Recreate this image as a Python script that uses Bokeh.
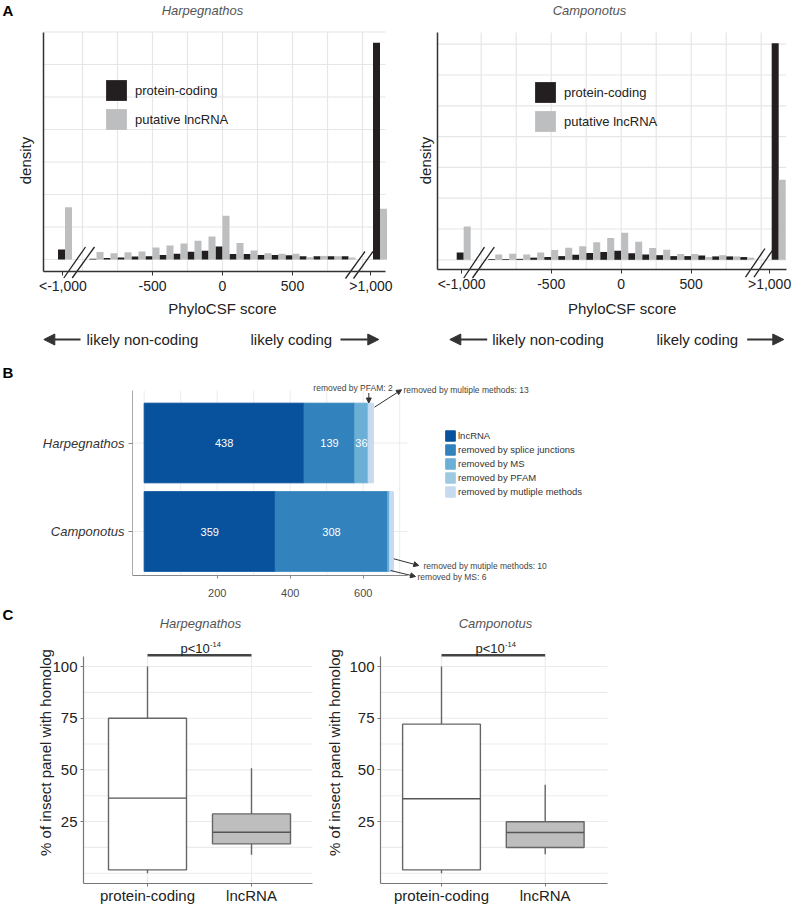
import numpy as np
from bokeh.plotting import figure
from bokeh.layouts import column, row
from bokeh.models import (ColumnDataSource, Range1d, FixedTicker, Arrow,
                          NormalHead, Legend, LegendItem)
from bokeh.transform import dodge
from bokeh.core.properties import value
from bokeh.embed import file_html
from bokeh.resources import INLINE

FONT = "Liberation Sans"

# ---------------- Panel A: PhyloCSF score histograms ----------------
a_bin_centers = [-1125, -900, -800, -700, -600, -500, -400, -300, -200, -100,
                 0, 100, 200, 300, 400, 500, 600, 700, 800, 900, 1125]
harp_coding = [0.31, 0.02, 0.05, 0.06, 0.09, 0.10, 0.14, 0.18, 0.24, 0.27,
               0.40, 0.17, 0.17, 0.14, 0.14, 0.13, 0.10, 0.10, 0.10, 0.10, 6.67]
harp_lncrna = [1.61, 0.23, 0.19, 0.22, 0.25, 0.37, 0.43, 0.49, 0.58, 0.71,
               1.35, 0.51, 0.28, 0.19, 0.18, 0.18, 0.07, 0.11, 0.10, 0.06, 1.56]
camp_coding = [0.24, 0.03, 0.03, 0.03, 0.07, 0.09, 0.12, 0.16, 0.22, 0.25,
               0.29, 0.21, 0.17, 0.15, 0.12, 0.12, 0.14, 0.11, 0.11, 0.09, 7.03]
camp_lncrna = [1.08, 0.17, 0.20, 0.17, 0.24, 0.32, 0.39, 0.44, 0.57, 0.71,
               0.88, 0.59, 0.38, 0.33, 0.19, 0.19, 0.09, 0.15, 0.11, 0.07, 2.60]
a_tick_values = [-1140, -500, 0, 500, 1060]
a_tick_labels = ["<-1,000", "-500", "0", "500", ">1,000"]
a_grid_values = [-1000, -750, -500, -250, 0, 250, 500, 750, 1000]
a_density_grid = [0, 1, 2, 3, 4, 5, 6, 7]
a_series = ["protein-coding", "putative lncRNA"]
a_colors = ["#231f20", "#bcbec0"]
species = ["Harpegnathos", "Camponotus"]

# ---------------- Panel B: filtering of candidate lncRNAs ----------------
b_categories = ["lncRNA", "removed by splice junctions", "removed by MS",
                "removed by PFAM", "removed by mutliple methods"]
b_keys = ["lnc", "splice", "ms", "pfam", "multi"]
b_harp = [438, 139, 36, 2, 13]
b_camp = [359, 308, 6, 0, 10]
b_colors = ["#08519c", "#3182bd", "#6baed6", "#9ecae1", "#c6dbef"]
b_ticks = [200, 400, 600]
b_grid = [0, 100, 200, 300, 400, 500, 600, 700]

# ---------------- Panel C: % of insect panel with homolog ----------------
c_groups = ["protein-coding", "lncRNA"]
c_fills = ["#ffffff", "#bebebe"]
c_ticks = [25, 50, 75, 100]
c_grid = [0, 12.5, 25, 37.5, 50, 62.5, 75, 87.5, 100]
harp_lower = [0.0, 8.9]
harp_q1 = [1.6, 14.2]
harp_median = [36.3, 19.8]
harp_q3 = [75.0, 28.7]
harp_upper = [100.0, 50.8]
camp_lower = [0.0, 9.2]
camp_q1 = [1.6, 12.4]
camp_median = [36.0, 19.7]
camp_q3 = [72.1, 24.9]
camp_upper = [100.0, 42.8]


class PixMap:
    """Linear map between page pixels and a figure's data space."""
    def __init__(self, ox, oy, w, h, ax, bx, ay, by):
        self.ox, self.oy, self.w, self.h = ox, oy, w, h
        self.ax, self.bx, self.ay, self.by = ax, bx, ay, by

    def x(self, px):
        return (px - self.ax) / self.bx

    def y(self, py):
        return (self.ay - py) / self.by

    def xr(self):
        return (self.x(self.ox), self.x(self.ox + self.w))

    def yr(self):
        return (self.y(self.oy + self.h), self.y(self.oy))

    def loc(self, px, py):
        return (px - self.ox, self.oy + self.h - py)


def new_fig(m):
    p = figure(width=m.w, height=m.h, x_range=Range1d(*m.xr()), y_range=Range1d(*m.yr()),
               output_backend="svg", toolbar_location=None,
               min_border_left=0, min_border_right=0, min_border_top=0, min_border_bottom=0)
    p.outline_line_color = None
    p.background_fill_color = "white"
    p.border_fill_color = "white"
    p.grid.visible = False
    for ax in (p.xaxis[0], p.yaxis[0]):
        ax.major_label_text_font = FONT
        ax.minor_tick_in = 0
        ax.minor_tick_out = 0
        ax.major_tick_in = 0
    return p


def style_axes(p, xpanel, ypanel):
    """Place the axes on the borders of the plotting panel."""
    xa, ya = p.xaxis[0], p.yaxis[0]
    xa.fixed_location = ypanel[0]
    xa.bounds = xpanel
    ya.fixed_location = xpanel[0]
    ya.bounds = ypanel
    return xa, ya


def add_text(p, m, px, py, text, size, color="#222", style="normal",
             align="center", angle=0.0):
    p.text(x=[m.x(px)], y=[m.y(py)], text=[text], text_font=value(FONT),
           text_font_size=f"{size}px", text_color=color, text_font_style=style,
           text_align=align, text_baseline="middle", angle=angle)


def add_arrow(p, m, x0, y0, x1, y1, color="#333", width=1.0, head=None):
    p.add_layout(Arrow(x_start=m.x(x0), y_start=m.y(y0), x_end=m.x(x1), y_end=m.y(y1),
                       start=None, end=head, line_color=color, line_width=width))


def big_head():
    return NormalHead(size=11, fill_color="#333", line_color="#333", line_width=1)


def small_head():
    return NormalHead(size=5, fill_color="#333", line_color="#333", line_width=1)


def grid_lines(p, xs, ys, xpanel, ypanel, color, width):
    n, k = len(xs), len(ys)
    p.segment(x0=xs, y0=[ypanel[0]] * n, x1=xs, y1=[ypanel[1]] * n,
              line_color=color, line_width=width)
    p.segment(x0=[xpanel[0]] * k, y0=ys, x1=[xpanel[1]] * k, y1=ys,
              line_color=color, line_width=width)


# ======================= Panel A =======================
def hist_panel(m, xpanel, ypanel, coding, lncrna, title, d):
    p = new_fig(m)
    grid_lines(p, a_grid_values, a_density_grid, xpanel, ypanel, "#e6e6e6", 1.2)
    src = ColumnDataSource(dict(x=a_bin_centers, coding=coding, lnc=lncrna))
    r1 = p.vbar(x=dodge("x", -25), top="coding", bottom=0, width=50, source=src,
                fill_color=a_colors[0], line_color=None)
    r2 = p.vbar(x=dodge("x", 25), top="lnc", bottom=0, width=50, source=src,
                fill_color=a_colors[1], line_color=None)

    xa, ya = style_axes(p, xpanel, ypanel)
    xa.ticker = FixedTicker(ticks=a_tick_values)
    xa.major_label_overrides = dict(zip(a_tick_values, a_tick_labels))
    xa.major_label_text_font_size = "14px"
    xa.major_label_text_color = "#222"
    xa.major_tick_out = 4
    xa.major_label_standoff = 2
    xa.axis_line_color = "#333"
    xa.axis_line_width = 1.5
    xa.major_tick_line_color = "#333"
    ya.ticker = FixedTicker(ticks=[])
    ya.axis_line_color = "#333"
    ya.axis_line_width = 1.5

    leg = Legend(items=[LegendItem(label=a_series[0], renderers=[r1]),
                        LegendItem(label=a_series[1], renderers=[r2])],
                 location=m.loc(*d["legend"]), orientation="vertical",
                 glyph_width=26, glyph_height=26, label_height=26, spacing=3,
                 padding=0, margin=0, label_standoff=6,
                 label_text_font=FONT, label_text_font_size="13px",
                 label_text_color="#222", background_fill_alpha=0,
                 border_line_alpha=0)
    p.add_layout(leg)

    add_text(p, m, d["title_x"], 10, title, 13, "#555", "italic")
    add_text(p, m, d["dens_x"], 160, "density", 15, "#222", angle=np.pi / 2)
    add_text(p, m, d["score_x"], 308, "PhyloCSF score", 15, "#222")
    add_arrow(p, m, d["la"][1], 339, d["la"][0], 339, "#333", 2, big_head())
    add_text(p, m, d["nc_x"], 339, "likely non-coding", 15, "#222", align="left")
    add_text(p, m, d["c_x"], 339, "likely coding", 15, "#222", align="left")
    add_arrow(p, m, d["ra"][0], 339, d["ra"][1], 339, "#333", 2, big_head())
    sl = d["slashes"]
    p.segment(x0=[m.x(s[0]) for s in sl], y0=[m.y(s[1]) for s in sl],
              x1=[m.x(s[2]) for s in sl], y1=[m.y(s[3]) for s in sl],
              line_color="#222", line_width=1.3)
    return p


mA1 = PixMap(0, 0, 400, 360, 222.0, 0.14, 259.0, 32.5)
pA1 = hist_panel(mA1, (-1279, 1164), (-0.37, 7.0), harp_coding, harp_lncrna, species[0],
                 dict(legend=(103, 132), title_x=202, dens_x=25, score_x=222,
                      la=(43.3, 80), nc_x=86, c_x=250, ra=(340, 378.3),
                      slashes=[(63.3, 277.5, 85, 246.5), (71.7, 277.5, 94, 246.5),
                               (345, 278, 364.5, 251), (353, 278, 372.5, 251)]))
add_text(pA1, mA1, 2, 10, "A", 15, "#000", "bold", align="left")

mA2 = PixMap(400, 0, 400, 360, 620.7, 0.14, 259.3, 30.8)
pA2 = hist_panel(mA2, (-1312, 1179), (-0.315, 7.38), camp_coding, camp_lncrna, species[1],
                 dict(legend=(532, 134), title_x=589, dens_x=425, score_x=621.7,
                      la=(449.3, 486.7), nc_x=491.7, c_x=656, ra=(746.7, 783.3),
                      slashes=[(463.3, 277.5, 484, 246.7), (472, 277.5, 493.8, 246.7),
                               (745, 276.7, 764.5, 248), (753.5, 276.7, 773, 248.3)]))

# ======================= Panel B =======================
mB = PixMap(0, 360, 800, 245, 143.7, 0.365, 619.5, 88.5)
pB = new_fig(mB)
xpB, ypB = (-32, 721), (0.503, 2.593)
b_pos = [len(species) - i for i in range(len(species))]
grid_lines(pB, b_grid, b_pos, xpB, ypB, "#ececec", 1)
b_data = dict(pos=b_pos)
for i, k in enumerate(b_keys):
    b_data[k] = [b_harp[i], b_camp[i]]
srcB = ColumnDataSource(b_data)
b_rs = pB.hbar_stack(b_keys, y="pos", height=0.9, color=b_colors, source=srcB)

vals = np.array([b_harp, b_camp], dtype=float)
ends = np.cumsum(vals, axis=1)
mids = ends - vals / 2.0
lx, ly, lt = [], [], []
for si in range(len(species)):
    for ci in range(len(b_keys)):
        if vals[si, ci] >= 20:
            lx.append(mids[si, ci])
            ly.append(b_pos[si])
            lt.append(str(int(vals[si, ci])))
pB.text(x=lx, y=ly, text=lt, text_align="center", text_baseline="middle",
        text_color="#ffffff", text_font=value(FONT), text_font_size="11px")

xb, yb = style_axes(pB, xpB, ypB)
xb.ticker = FixedTicker(ticks=b_ticks)
xb.major_label_text_font_size = "11px"
xb.major_label_text_color = "#4d4d4d"
xb.major_tick_out = 3
xb.major_label_standoff = 11
xb.axis_line_color = "#888"
xb.major_tick_line_color = "#888"
yb.ticker = FixedTicker(ticks=b_pos)
yb.major_label_overrides = dict(zip(b_pos, species))
yb.major_label_text_font_size = "13px"
yb.major_label_text_font_style = "italic"
yb.major_label_text_color = "#333"
yb.major_tick_out = 4
yb.major_label_standoff = 4
yb.axis_line_color = "#aaa"
yb.major_tick_line_color = "#888"

legB = Legend(items=[LegendItem(label=b_categories[i], renderers=[b_rs[i]])
                     for i in range(len(b_keys))],
              location=mB.loc(444, 498.3), orientation="vertical",
              glyph_width=12, glyph_height=13, label_height=13, spacing=1,
              padding=0, margin=0, label_standoff=2,
              label_text_font=FONT, label_text_font_size="9.5px",
              label_text_color="#333", background_fill_alpha=0, border_line_alpha=0)
pB.add_layout(legB)

add_text(pB, mB, 2, 372, "B", 15, "#000", "bold", align="left")
add_text(pB, mB, 352.5, 387.3, "removed by PFAM: 2", 8.5, "#444")
add_arrow(pB, mB, 368.3, 392.5, 368.3, 402.5, "#333", 1, small_head())
add_arrow(pB, mB, 374, 406.7, 401, 389.3, "#333", 1, small_head())
add_text(pB, mB, 403, 389, "removed by multiple methods: 13", 8.5, "#444", align="left")
add_arrow(pB, mB, 393.3, 558.3, 418.3, 565, "#333", 1, small_head())
add_text(pB, mB, 423, 565, "removed by mutiple methods: 10", 8.5, "#444", align="left")
add_arrow(pB, mB, 390, 570, 415, 576, "#333", 1, small_head())
add_text(pB, mB, 417, 576, "removed by MS: 6", 8.5, "#444", align="left")

# ======================= Panel C =======================
C_DY = -4  # lift panel C slightly so its bottom labels stay inside the page


def box_panel(m, xpanel, lower, q1, med, q3, upper, title, d):
    p = new_fig(m)
    ypanel = (-5, 105)
    pos = [i + 1 for i in range(len(c_groups))]
    grid_lines(p, pos, c_grid, xpanel, ypanel, "#ebebeb", 1.1)
    src = ColumnDataSource(dict(pos=pos, lower=lower, q1=q1, med=med, q3=q3,
                                upper=upper, fill=c_fills))
    p.segment(x0="pos", y0="q3", x1="pos", y1="upper", source=src,
              line_color="#666", line_width=1.4)
    p.segment(x0="pos", y0="q1", x1="pos", y1="lower", source=src,
              line_color="#666", line_width=1.4)
    p.vbar(x="pos", bottom="q1", top="q3", width=0.75, source=src,
           fill_color="fill", line_color="#666", line_width=1.4)
    p.segment(x0=dodge("pos", -0.375), y0="med", x1=dodge("pos", 0.375), y1="med",
              source=src, line_color="#555", line_width=1.4)

    xa, ya = style_axes(p, xpanel, ypanel)
    xa.ticker = FixedTicker(ticks=pos)
    xa.major_label_overrides = dict(zip(pos, c_groups))
    xa.major_label_text_font_size = "15px"
    xa.major_label_text_color = "#222"
    xa.major_tick_out = 3
    xa.major_label_standoff = 0
    xa.axis_line_color = "#777"
    xa.axis_line_width = 1.2
    xa.major_tick_line_color = "#777"
    ya.ticker = FixedTicker(ticks=c_ticks)
    ya.major_label_text_font_size = "15px"
    ya.major_label_text_color = "#222"
    ya.major_tick_out = 3
    ya.major_label_standoff = 3
    ya.axis_line_color = "#777"
    ya.axis_line_width = 1.2
    ya.major_tick_line_color = "#777"

    p.segment(x0=[pos[0]], y0=[105.4], x1=[pos[1]], y1=[105.4],
              line_color="#444", line_width=2.5)
    add_text(p, m, d["title_x"], 627 + C_DY, title, 13, "#555", "italic")
    add_text(p, m, d["p_x"], 652 + C_DY, "p<10", 13, "#222", align="left")
    add_text(p, m, d["p_x"] + 29.5, 647.5 + C_DY, "-14", 7.5, "#222", align="left")
    add_text(p, m, d["ylab_x"], 756 + C_DY, "% of insect panel with homolog", 15, "#222",
             angle=np.pi / 2)
    return p


mC1 = PixMap(0, 605, 320, 301, 43.0, 104.0, 876.7 + C_DY, 2.067)
pC1 = box_panel(mC1, (0.385, 2.587), harp_lower, harp_q1, harp_median, harp_q3,
                harp_upper, species[0], dict(title_x=200, p_x=180, ylab_x=45))
add_text(pC1, mC1, 2, 618 + C_DY, "C", 15, "#000", "bold", align="left")
mC2 = PixMap(320, 605, 480, 301, 337.3, 103.7, 876.7 + C_DY, 2.067)
pC2 = box_panel(mC2, (0.412, 2.601), camp_lower, camp_q1, camp_median, camp_q3,
                camp_upper, species[1], dict(title_x=495, p_x=475, ylab_x=334))

layout = column(row(pA1, pA2), pB, row(pC1, pC2))

with open("out.html", "w") as f:
    f.write(file_html(layout, INLINE))
